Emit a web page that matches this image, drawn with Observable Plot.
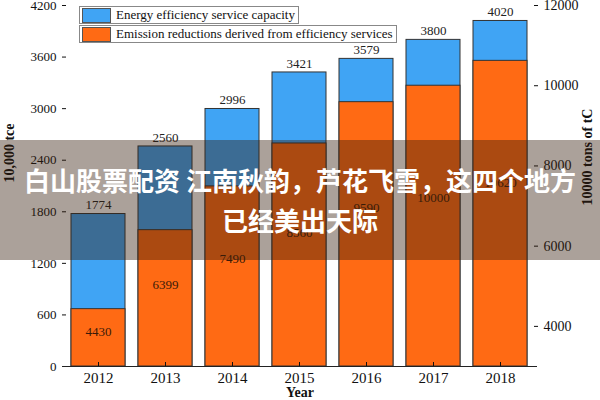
<!DOCTYPE html>
<html><head><meta charset="utf-8">
<script src="https://cdn.jsdelivr.net/npm/d3@7"></script>
<script src="https://cdn.jsdelivr.net/npm/@observablehq/plot@0.6"></script>
<style>
body{margin:0;background:#fff;}
#wrap{position:relative;width:600px;height:400px;overflow:hidden;font-family:"Liberation Serif","Times New Roman",serif;}
.legend{position:absolute;left:79px;top:6px;font-size:13px;color:#111;}
.item{display:flex;align-items:center;border:1px solid #888;background:#fff;height:16px;margin-bottom:1px;padding-right:3px;width:max-content;}
.sw{width:27px;height:13px;margin:0 5px 0 2px;border:1px solid #555;}
.ttl{position:absolute;font-weight:bold;font-size:14px;white-space:nowrap;color:#111;}
#banner{position:absolute;left:0;top:140px;width:600px;height:120px;background:rgba(55,30,15,0.42);display:flex;flex-direction:column;align-items:center;justify-content:center;color:#fff;font-family:"Noto Sans CJK SC",sans-serif;font-weight:bold;font-size:26px;line-height:40px;text-align:center;}
</style></head>
<body>
<div id="wrap"></div>
<script>
const years = ["2012","2013","2014","2015","2016","2017","2018"];
const capacity = [1774, 2560, 2996, 3421, 3579, 3800, 4020];
const reductions = [4430, 6399, 7490, 8560, 9590, 10000, 10620];
const leftTicks = [0, 600, 1200, 1800, 2400, 3000, 3600, 4200];
const rightTicks = [4000, 6000, 8000, 10000, 12000];
const rightDomain = [3000, 12000];
const leftDomain = [0, 4200];
const seriesNames = ["Energy efficiency service capacity", "Emission reductions derived from efficiency services"];
const colors = ["#40a4f4", "#ff6a14"];

const toLeft = v => (v - rightDomain[0]) / (rightDomain[1] - rightDomain[0]) * (leftDomain[1] - leftDomain[0]) + leftDomain[0];
const data = years.map((y, i) => ({year: y, cap: capacity[i], red: reductions[i]}));
const rightTicksLeft = rightTicks.map(toLeft);

const chart = Plot.plot({
  width: 600, height: 400,
  marginLeft: 62, marginRight: 63, marginTop: 5, marginBottom: 34,
  style: {fontFamily: "'Liberation Serif','Times New Roman',serif", color: "#111", background: "transparent"},
  x: {type: "band", domain: years, paddingInner: 0.19, paddingOuter: 0.095, label: null},
  y: {domain: leftDomain, label: null},
  marks: [
    Plot.barY(data, {x: "year", y: "cap", fill: colors[0], stroke: "#333", strokeWidth: 1}),
    Plot.barY(data, {x: "year", y1: 0, y2: d => toLeft(d.red), fill: colors[1], stroke: "#333", strokeWidth: 1}),
    Plot.text(data, {x: "year", y: "cap", text: d => String(d.cap), dy: -9, fontSize: 13, fill: "#222"}),
    Plot.text(data, {x: "year", y: d => toLeft(d.red) * 0.6, text: d => String(d.red), fontSize: 13, fill: "#3a1a08"}),
    Plot.axisY({ticks: leftTicks, anchor: "left", tickSize: -4, tickPadding: 10, fontSize: 13, line: true, label: null,
      tickFormat: v => String(v)}),
    Plot.axisY({ticks: rightTicksLeft, anchor: "right", tickSize: -4, tickPadding: 10, fontSize: 14, line: true, label: null,
      tickFormat: v => String(rightTicks[rightTicksLeft.findIndex(t => Math.abs(t - v) < 1e-6)])}),
    Plot.axisX({anchor: "bottom", tickSize: -4, tickPadding: 10, fontSize: 15, label: null}),
    Plot.ruleY([0], {stroke: "#222", strokeWidth: 1.2})
  ]
});

const wrap = document.getElementById("wrap");
chart.style.position = "absolute"; chart.style.left = "0"; chart.style.top = "0";
wrap.appendChild(chart);

const leg = document.createElement("div");
leg.className = "legend";
seriesNames.forEach((n, i) => {
  const it = document.createElement("div"); it.className = "item";
  const sw = document.createElement("div"); sw.className = "sw"; sw.style.background = colors[i];
  const t = document.createElement("span"); t.textContent = n;
  it.appendChild(sw); it.appendChild(t); leg.appendChild(it);
});
wrap.appendChild(leg);

function title(text, x, y, rot) {
  const d = document.createElement("div"); d.className = "ttl"; d.textContent = text;
  d.style.left = x + "px"; d.style.top = y + "px";
  d.style.transform = "translate(-50%,-50%)" + (rot ? " rotate(-90deg)" : "");
  wrap.appendChild(d);
}
title("10,000 tce", 10, 153, true);
title("10000 tons of tC", 588, 157, true);
title("Year", 300, 393, false);

const banner = document.createElement("div");
banner.id = "banner";
["白山股票配资 江南秋韵，芦花飞雪，这四个地方", "已经美出天际"].forEach(s => {
  const l = document.createElement("div"); l.textContent = s; banner.appendChild(l);
});
wrap.appendChild(banner);
</script>
</body></html>
